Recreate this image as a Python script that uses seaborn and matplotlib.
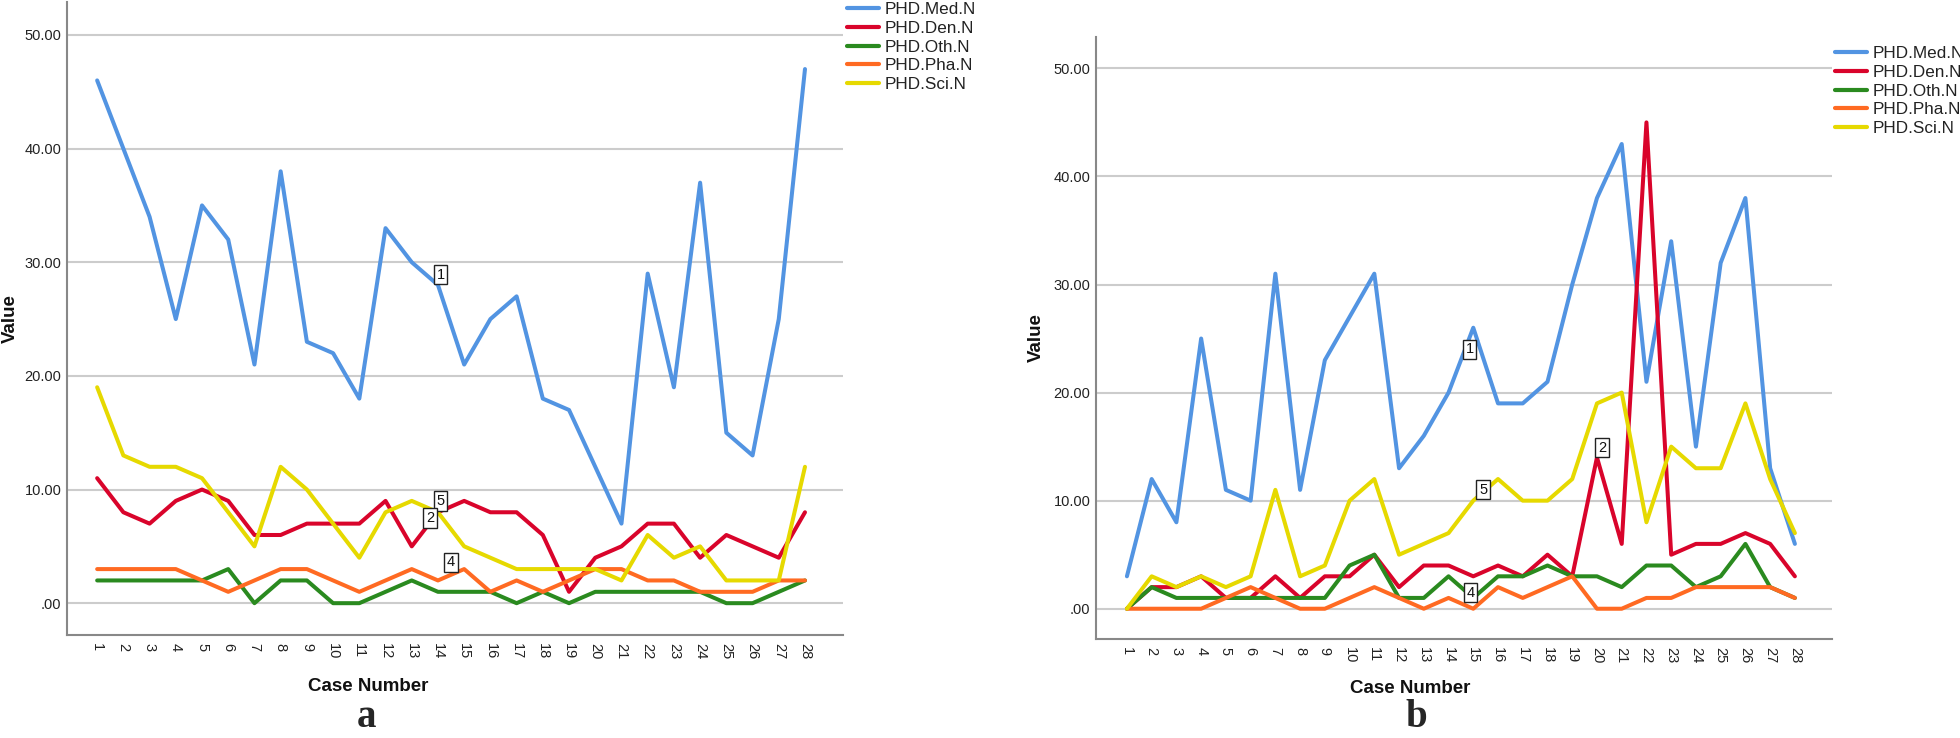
import numpy as np
import pandas as pd
import matplotlib
matplotlib.use("Agg")
import matplotlib.pyplot as plt
import seaborn as sns

cases = list(range(1, 29))
series_names = ["PHD.Med.N", "PHD.Den.N", "PHD.Oth.N", "PHD.Pha.N", "PHD.Sci.N"]
colors = ["#5294E2", "#D9042B", "#2A8A1F", "#FF6A22", "#E6D900"]

# Panel a
a_med = [46, 40, 34, 25, 35, 32, 21, 38, 23, 22, 18, 33, 30, 28, 21, 25, 27, 18, 17, 12, 7, 29, 19, 37, 15, 13, 25, 47]
a_den = [11, 8, 7, 9, 10, 9, 6, 6, 7, 7, 7, 9, 5, 8, 9, 8, 8, 6, 1, 4, 5, 7, 7, 4, 6, 5, 4, 8]
a_oth = [2, 2, 2, 2, 2, 3, 0, 2, 2, 0, 0, 1, 2, 1, 1, 1, 0, 1, 0, 1, 1, 1, 1, 1, 0, 0, 1, 2]
a_pha = [3, 3, 3, 3, 2, 1, 2, 3, 3, 2, 1, 2, 3, 2, 3, 1, 2, 1, 2, 3, 3, 2, 2, 1, 1, 1, 2, 2]
a_sci = [19, 13, 12, 12, 11, 8, 5, 12, 10, 7, 4, 8, 9, 8, 5, 4, 3, 3, 3, 3, 2, 6, 4, 5, 2, 2, 2, 12]

# Panel b
b_med = [3, 12, 8, 25, 11, 10, 31, 11, 23, 27, 31, 13, 16, 20, 26, 19, 19, 21, 30, 38, 43, 21, 34, 15, 32, 38, 13, 6]
b_den = [0, 2, 2, 3, 1, 1, 3, 1, 3, 3, 5, 2, 4, 4, 3, 4, 3, 5, 3, 14, 6, 45, 5, 6, 6, 7, 6, 3]
b_oth = [0, 2, 1, 1, 1, 1, 1, 1, 1, 4, 5, 1, 1, 3, 1, 3, 3, 4, 3, 3, 2, 4, 4, 2, 3, 6, 2, 1]
b_pha = [0, 0, 0, 0, 1, 2, 1, 0, 0, 1, 2, 1, 0, 1, 0, 2, 1, 2, 3, 0, 0, 1, 1, 2, 2, 2, 2, 1]
b_sci = [0, 3, 2, 3, 2, 3, 11, 3, 4, 10, 12, 5, 6, 7, 10, 12, 10, 10, 12, 19, 20, 8, 15, 13, 13, 19, 12, 7]

# Box labels (text, x, y)
a_labels = [("1", 14.1, 28.9), ("5", 14.1, 9.0), ("2", 13.7, 7.5), ("4", 14.5, 3.6)]
b_labels = [("1", 14.85, 24.0), ("5", 15.4, 11.0), ("4", 14.9, 1.5), ("2", 20.2, 14.9)]

yticks = [0, 10, 20, 30, 40, 50]
ytick_labels = [".00", "10.00", "20.00", "30.00", "40.00", "50.00"]

sns.set_theme(style="white")
plt.rcParams["font.family"] = ["Liberation Sans", "DejaVu Sans"]

fig = plt.figure(figsize=(19.6, 7.38), dpi=100)

W, H = 1960, 738
def axrect(l, t, r, b):
    return [l / W, 1 - b / H, (r - l) / W, (b - t) / H]

ax_a = fig.add_axes(axrect(67, 2, 843, 635))
ax_b = fig.add_axes(axrect(1096, 37, 1832, 639))


def make_df(vals):
    rows = []
    for name, v in zip(series_names, vals):
        for c, y in zip(cases, v):
            rows.append({"Case Number": c, "Value": y, "Series": name})
    return pd.DataFrame(rows)


def draw(ax, vals, labels, xlim, ylab_x, xlab_x, leg_anchor):
    df = make_df(vals)
    sns.lineplot(data=df, x="Case Number", y="Value", hue="Series",
                 palette=dict(zip(series_names, colors)), linewidth=2.9,
                 ax=ax, legend=True)
    ax.set_xlim(*xlim)
    ax.set_ylim(-2.8, 52.9)
    ax.set_yticks(yticks)
    ax.set_yticklabels(ytick_labels)
    ax.set_xticks(cases)
    ax.set_xticklabels([str(c) for c in cases], rotation=-90)
    ax.tick_params(axis="both", length=0, labelsize=10.5, colors="#222222")
    ax.tick_params(axis="y", pad=4)
    ax.tick_params(axis="x", pad=6)
    ax.grid(axis="y", color="#cccccc", linewidth=1.5)
    ax.set_axisbelow(True)
    for s in ["top", "right"]:
        ax.spines[s].set_visible(False)
    for s in ["left", "bottom"]:
        ax.spines[s].set_color("#888888")
        ax.spines[s].set_linewidth(1.5)
    ax.set_ylabel("Value", fontsize=13.5, fontweight="bold", color="#111111")
    ax.set_xlabel("Case Number", fontsize=13.5, fontweight="bold", color="#111111")
    ax.yaxis.set_label_coords(ylab_x, 0.5)
    ax.xaxis.set_label_coords(xlab_x, -0.068)
    for t, x, y in labels:
        ax.text(x, y, t, fontsize=10.5, ha="center", va="center", color="#111111",
                bbox=dict(boxstyle="square,pad=0.18", facecolor="white",
                          edgecolor="#222222", linewidth=1.0), zorder=5)
    leg = ax.legend(loc="upper left", bbox_to_anchor=leg_anchor, frameon=False,
                    fontsize=12.3, handlelength=1.9, handletextpad=0.3,
                    labelspacing=0.22, borderpad=0, borderaxespad=0)
    for line in leg.get_lines():
        line.set_linewidth(3.0)
    for txt in leg.get_texts():
        txt.set_color("#222222")


draw(ax_a, [a_med, a_den, a_oth, a_pha, a_sci], a_labels, (-0.15, 29.45),
     -0.062, 0.388, (1.005, 1.0))
draw(ax_b, [b_med, b_den, b_oth, b_pha, b_sci], b_labels, (-0.25, 29.5),
     -0.069, 0.427, (1.004, 0.985))

fig.text(366 / W, 0.003, "a", fontsize=28, fontweight="bold",
         family=["Liberation Serif", "DejaVu Serif"], ha="center", va="bottom")
fig.text(1416 / W, 0.003, "b", fontsize=28, fontweight="bold",
         family=["Liberation Serif", "DejaVu Serif"], ha="center", va="bottom")

fig.savefig("out.png", dpi=100, facecolor="white")
